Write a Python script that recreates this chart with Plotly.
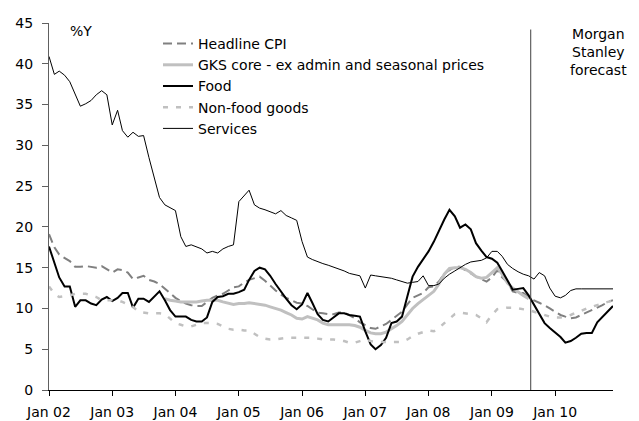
import pandas as pd
import plotly.graph_objects as go

# Monthly observations, Jan 2002 - Dec 2010 (% y/y)
months = pd.date_range("2002-01-01", "2010-12-01", freq="MS")

headline_cpi = [
    19.1, 17.5, 16.6, 16.2, 15.8, 15.1, 15.1, 15.2, 15.1, 15.0, 15.2, 14.8,
    14.4, 14.8, 14.7, 14.4, 13.6, 13.8, 14.0, 13.5, 13.3, 13.0, 12.4, 11.8,
    11.3, 10.9, 10.6, 10.4, 10.3, 10.3, 10.8, 11.3, 11.6, 11.8, 12.2, 12.6,
    12.7, 13.2, 13.5, 13.7, 13.9, 13.4, 12.8, 12.2, 11.7, 11.3, 11.0, 10.7,
    10.6, 10.3, 9.9, 9.5, 9.4, 9.3, 9.3, 9.5, 9.5, 9.2, 8.8, 8.3,
    8.0, 7.6, 7.5, 7.8, 8.1, 8.6, 9.1, 9.6, 10.5, 11.3, 11.6, 11.9,
    12.6, 12.7, 13.3, 14.3, 14.7, 15.1, 15.1, 14.7, 14.2, 13.9, 13.6, 13.3,
    13.8, 14.7, 13.8, 13.2, 12.1, 11.9, 11.9, 11.4, 11.0, 10.7, 10.4, 10.0,
    9.6, 9.2, 9.0, 8.8, 8.9, 9.2, 9.5, 9.8, 10.1, 10.4, 10.8, 11.0,
]

gks_core = [None] * 22 + [
    11.2, 11.0,
    10.9, 10.8, 10.8, 10.8, 10.8, 10.9, 11.0, 11.0, 11.0, 10.8, 10.6, 10.5,
    10.6, 10.6, 10.7, 10.6, 10.5, 10.4, 10.2, 10.0, 9.8, 9.5, 9.2, 8.8,
    8.7, 9.0, 8.8, 8.6, 8.2, 8.0, 8.0, 8.0, 8.0, 8.0, 7.9, 7.7,
    7.3, 7.0, 6.9, 6.9, 7.1, 7.5, 7.9, 8.4, 9.2, 10.0, 10.6, 11.1,
    11.6, 12.1, 13.0, 14.2, 14.9, 15.0, 15.0, 14.8, 14.4, 13.9, 13.7, 13.8,
    14.4, 15.0, 14.2, 13.1, 12.5, 12.0, 11.6, 11.2,
] + [None] * 16

food = [
    17.6, 15.5, 13.8, 12.7, 12.7, 10.2, 11.0, 11.0, 10.6, 10.4, 11.1, 11.4,
    10.9, 11.3, 11.9, 11.9, 10.1, 11.2, 11.2, 10.8, 11.4, 12.1, 11.0, 9.8,
    9.0, 9.0, 9.0, 8.6, 8.4, 8.4, 8.9, 10.8, 11.4, 11.5, 11.8, 11.8,
    12.0, 12.3, 13.5, 14.6, 15.0, 14.8, 14.0, 13.0, 12.0, 11.2, 10.4, 9.9,
    10.5, 11.9, 10.7, 9.3, 8.6, 8.4, 8.9, 9.4, 9.4, 9.2, 9.1, 9.0,
    7.2, 5.6, 5.0, 5.5, 6.4, 8.2, 8.4, 9.0, 11.5, 13.9, 15.1, 16.0,
    17.0, 18.2, 19.6, 20.9, 22.1, 21.3, 19.9, 20.3, 19.7, 18.0, 17.1, 16.3,
    16.1, 15.6, 14.6, 13.4, 12.3, 12.4, 12.5, 11.6, 10.5, 9.3, 8.2, 7.6,
    7.0, 6.5, 5.8, 6.0, 6.4, 6.9, 7.0, 7.0, 8.3, 9.0, 9.7, 10.3,
]

non_food_goods = [
    12.7, 11.8, 11.4, 11.5, 11.6, 11.8, 11.8, 11.8, 11.6, 11.4, 11.0, 11.0,
    11.0, 11.0, 10.8, 10.5, 10.2, 9.6, 9.5, 9.4, 9.4, 9.4, 9.3, 8.8,
    8.2, 8.0, 7.8, 7.8, 8.0, 8.2, 8.2, 8.2, 8.1, 7.8, 7.5, 7.4,
    7.4, 7.3, 7.3, 6.9, 6.5, 6.3, 6.2, 6.2, 6.3, 6.4, 6.4, 6.4,
    6.4, 6.4, 6.4, 6.3, 6.2, 6.2, 6.2, 6.1, 6.0, 5.8, 5.8, 6.0,
    6.2, 6.0, 5.9, 5.9, 5.9, 5.9, 5.9, 5.9, 6.2, 6.6, 6.9, 7.1,
    7.3, 7.2, 7.6, 8.2, 8.8, 9.3, 9.5, 9.4, 9.3, 9.2, 8.8, 8.3,
    9.2, 9.9, 10.0, 10.1, 10.1, 10.0, 9.9, 9.8, 9.6, 9.4, 9.2, 9.0,
    8.9, 8.9, 9.0, 9.2, 9.5, 9.7, 10.0, 10.2, 10.4, 10.6, 10.8, 11.0,
]

services = [
    40.9, 38.7, 39.1, 38.6, 37.8, 36.3, 34.8, 35.1, 35.5, 36.2, 36.7, 36.2,
    32.5, 34.3, 31.8, 31.0, 31.6, 31.1, 31.2, 28.5, 26.0, 23.6, 22.7, 22.4,
    22.0, 18.8, 17.6, 17.8, 17.6, 17.3, 16.8, 17.0, 16.8, 17.3, 17.6, 17.8,
    23.1, 23.9, 24.5, 22.7, 22.3, 22.1, 21.9, 21.6, 22.0, 21.4, 21.1, 20.8,
    18.2, 16.3, 16.0, 15.7, 15.5, 15.3, 15.1, 14.9, 14.6, 14.3, 14.1, 14.0,
    12.5, 14.1, 14.0, 13.9, 13.8, 13.7, 13.5, 13.3, 13.1, 13.2, 13.3, 14.0,
    12.8, 12.8, 13.0, 13.7, 14.2, 14.6, 15.0, 15.4, 15.7, 15.8, 15.9, 16.2,
    17.0, 17.0, 16.4, 15.4, 14.9, 14.5, 14.2, 14.0, 13.6, 14.4, 14.0, 12.5,
    11.5, 11.3, 11.6, 12.2, 12.4, 12.4, 12.4, 12.4, 12.4, 12.4, 12.4, 12.4,
]

forecast_start = "2009-08-13"
y_ticks = list(range(0, 46, 5))

FONT = "DejaVu Sans, Liberation Sans, Arial, sans-serif"
FS = 14

# plot area in pixels
L, R, T, B = 49, 26, 23, 31
PW, PH = 639 - L - R, 421 - T - B


def px_x(px):
    return (px - L) / PW


def px_y(py):
    return 1 - (py - T) / PH


fig = go.Figure()

series = [
    ("Headline CPI", headline_cpi, dict(color="#808080", width=2, dash="9px,5px")),
    ("GKS core - ex admin and seasonal prices", gks_core, dict(color="#c0c0c0", width=3)),
    ("Food", food, dict(color="#000000", width=2)),
    ("Non-food goods", non_food_goods, dict(color="#c0c0c0", width=2.5, dash="5px,8px")),
    ("Services", services, dict(color="#000000", width=1)),
]
for name, vals, line in series:
    fig.add_trace(go.Scatter(x=months, y=vals, name=name, mode="lines", line=line))

# forecast divider
fig.add_shape(type="line", xref="x", yref="y", x0=forecast_start, x1=forecast_start,
              y0=0, y1=44.2, line=dict(color="#404040", width=1))

fig.add_annotation(text="Morgan<br>Stanley<br>forecast", xref="paper", yref="paper",
                   x=px_x(598), y=px_y(52), xanchor="center", yanchor="middle",
                   showarrow=False, align="center",
                   font=dict(family=FONT, size=FS, color="#000000"))
fig.add_annotation(text="%Y", xref="paper", yref="paper",
                   x=px_x(81), y=px_y(31), xanchor="center", yanchor="middle",
                   showarrow=False, font=dict(family=FONT, size=FS, color="#000000"))

fig.update_layout(
    width=639, height=421,
    margin=dict(l=L, r=R, t=T, b=B),
    paper_bgcolor="white", plot_bgcolor="white",
    font=dict(family=FONT, size=FS, color="#000000"),
    showlegend=True,
    legend=dict(x=px_x(158), y=px_y(28), xanchor="left", yanchor="top",
                bgcolor="rgba(0,0,0,0)", font=dict(family=FONT, size=FS),
                itemwidth=30, tracegroupgap=0),
    xaxis=dict(range=["2002-01-01", "2010-12-01"], tickformat="%b %y", dtick="M12",
               tick0="2002-01-01", ticks="outside", ticklen=5, tickcolor="#000000",
               showline=True, linecolor="#000000", linewidth=1, showgrid=False,
               zeroline=False, automargin=False, ticklabelstandoff=4,
               tickfont=dict(family=FONT, size=FS)),
    yaxis=dict(range=[0, 45], tickvals=y_ticks, ticks="outside", ticklen=6,
               tickcolor="#606060", showline=True, linecolor="#606060", linewidth=1,
               showgrid=False, zeroline=False, automargin=False, ticklabelstandoff=6,
               tickfont=dict(family=FONT, size=FS)),
)

fig.write_html("out.html")
